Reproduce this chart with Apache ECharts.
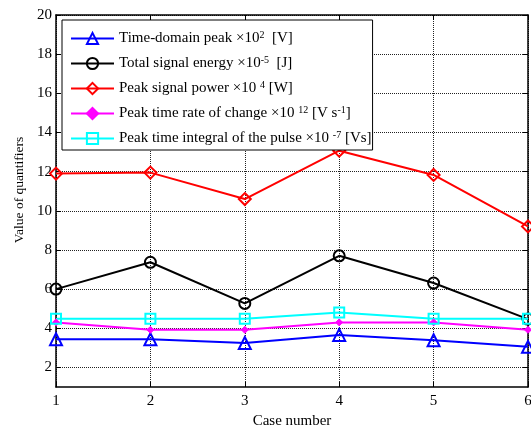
<!DOCTYPE html>
<html><head><meta charset="utf-8">
<script src="https://cdn.jsdelivr.net/npm/echarts@6/dist/echarts.min.js"></script>
<style>html,body{margin:0;padding:0;background:#fff}#c{width:531px;height:428px}</style>
</head><body><div id="c"></div>
<script>
const cases = [1, 2, 3, 4, 5, 6];
const yTicks = [2, 4, 6, 8, 10, 12, 14, 16, 18, 20];
const xTicks = [1, 2, 3, 4, 5, 6];
const timePeak = [3.44, 3.44, 3.25, 3.66, 3.39, 3.05];
const totalEnergy = [6.0, 7.37, 5.27, 7.7, 6.31, 4.47];
const peakPower = [11.9, 11.95, 10.6, 13.07, 11.83, 9.2];
const rateChange = [4.3, 3.92, 3.92, 4.3, 4.3, 3.92];
const timeIntegral = [4.48, 4.48, 4.48, 4.8, 4.48, 4.48];
const names = ['Time-domain peak', 'Total signal energy', 'Peak signal power', 'Peak time rate of change', 'Peak time integral of the pulse'];
const legendLabels = {
  'Time-domain peak': 'Time-domain peak ×10{s|2}  [V]',
  'Total signal energy': 'Total signal energy ×10{s|-5}  [J]',
  'Peak signal power': 'Peak signal power ×10 {s|4} [W]',
  'Peak time rate of change': 'Peak time rate of change ×10 {s|12} [V s{s|-1}]',
  'Peak time integral of the pulse': 'Peak time integral of the pulse ×10 {s|-7} [Vs]'
};
const FONT = 'Liberation Serif';
function mk(name, data, color, symbol, size, filled) {
  return {
    name, type: 'line', data: cases.map((c, i) => [c, data[i]]),
    symbol, symbolSize: size, showSymbol: true,
    lineStyle: { color, width: 2 },
    itemStyle: filled ? { color, borderColor: color, borderWidth: 1 } : { color: 'rgba(255,255,255,0)', borderColor: color, borderWidth: 2 },
    emphasis: { disabled: true }, animation: false, z: 3
  };
}
const chart = echarts.init(document.getElementById('c'));
const tickStyle = { inside: true, length: 5, lineStyle: { color: '#000', width: 1 } };
const axisLineStyle = { lineStyle: { color: '#000', width: 1.5 } };
chart.setOption({
  animation: false,
  grid: { left: 56, right: 3, top: 15, bottom: 41, containLabel: false, outerBoundsMode: 'none' },
  legend: {
    orient: 'vertical', left: 62, top: 20,
    data: names,
    backgroundColor: '#fff', borderColor: '#000', borderWidth: 1,
    padding: [10, 1, 3, 8], itemGap: 8, itemWidth: 43, itemHeight: 14,
    formatter: n => legendLabels[n],
    textStyle: { fontFamily: FONT, fontSize: 15, color: '#000', lineHeight: 17,
      rich: { s: { fontFamily: FONT, fontSize: 10, verticalAlign: 'top', lineHeight: 17, padding: [0, 0, 6, 0] } } },
    selectedMode: false
  },
  xAxis: [
    { type: 'value', min: 1, max: 6, interval: 1, position: 'bottom',
      name: 'Case number', nameLocation: 'middle', nameGap: 24,
      nameTextStyle: { fontFamily: FONT, fontSize: 15, color: '#000' },
      axisLine: axisLineStyle, axisTick: tickStyle,
      axisLabel: { fontFamily: FONT, fontSize: 15, color: '#000', margin: 7 },
      splitLine: { show: true, lineStyle: { type: 'dotted', color: '#222', width: 1 } } },
    { type: 'value', min: 1, max: 6, interval: 1, position: 'top',
      axisLine: axisLineStyle, axisTick: tickStyle,
      axisLabel: { show: false }, splitLine: { show: false } }
  ],
  yAxis: [
    { type: 'value', min: 1, max: 20, position: 'left',
      name: 'Value of quantifiers', nameLocation: 'middle', nameGap: 28,
      nameTextStyle: { fontFamily: FONT, fontSize: 13.5, color: '#000', padding: [0, 0, 0, 22] },
      axisLine: axisLineStyle,
      axisTick: Object.assign({ customValues: yTicks }, tickStyle),
      axisLabel: { fontFamily: FONT, fontSize: 15, color: '#000', margin: 4, customValues: yTicks },
      splitLine: { show: true, lineStyle: { type: 'dotted', color: '#222', width: 1 } } },
    { type: 'value', min: 1, max: 20, position: 'right',
      axisLine: axisLineStyle,
      axisTick: Object.assign({ customValues: yTicks }, tickStyle),
      axisLabel: { show: false, customValues: yTicks }, splitLine: { show: false } }
  ],
  series: [
    mk(names[0], timePeak, '#0000ff', 'triangle', 12, false),
    mk(names[1], totalEnergy, '#000000', 'circle', 11, false),
    mk(names[2], peakPower, '#ff0000', 'diamond', 12, false),
    mk(names[3], rateChange, '#ff00ff', 'diamond', 7, true),
    mk(names[4], timeIntegral, '#00ffff', 'rect', 10, false)
  ]
});
</script></body></html>
